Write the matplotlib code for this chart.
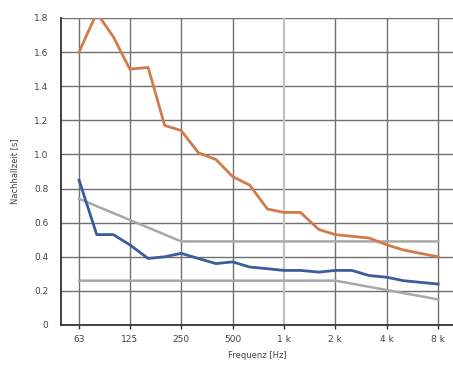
import matplotlib
matplotlib.use("Agg")
import matplotlib.pyplot as plt

# third-octave band centres
freqs = [63, 80, 100, 125, 160, 200, 250, 315, 400, 500, 630, 800,
         1000, 1250, 1600, 2000, 2500, 3150, 4000, 5000, 6300, 8000]

# measured reverberation time, before / after
t_before = [1.60, 1.83, 1.69, 1.50, 1.51, 1.17, 1.14, 1.01, 0.97, 0.87, 0.82, 0.68,
            0.66, 0.66, 0.56, 0.53, 0.52, 0.51, 0.47, 0.44, 0.42, 0.40]
t_after = [0.85, 0.53, 0.53, 0.47, 0.39, 0.40, 0.42, 0.39, 0.36, 0.37, 0.34, 0.33,
           0.32, 0.32, 0.31, 0.32, 0.32, 0.29, 0.28, 0.26, 0.25, 0.24]

# tolerance band
upper_f = [63, 250, 8000]
upper_t = [0.74, 0.49, 0.49]
lower_f = [63, 2000, 8000]
lower_t = [0.26, 0.26, 0.15]

xticks = [63, 125, 250, 500, 1000, 2000, 4000, 8000]
xticklabels = ["63", "125", "250", "500", "1 k", "2 k", "4 k", "8 k"]
yticks = [0, 0.2, 0.4, 0.6, 0.8, 1.0, 1.2, 1.4, 1.6, 1.8]
yticklabels = ["0", "0.2", "0.4", "0.6", "0.8", "1.0", "1.2", "1.4", "1.6", "1.8"]

fig = plt.figure(figsize=(4.53, 3.65), dpi=100)
ax = fig.add_axes([0.1347, 0.1096, 0.8653, 0.8411])

ax.set_xscale("log", base=2)
ax.set_xlim(49.4, 9780)
ax.set_ylim(0, 1.8)

# grid
for y in yticks[1:]:
    ax.axhline(y, color="#707070", lw=1.0, zorder=1)
for f in xticks:
    if f == 1000:
        ax.axvline(f, color="#c2c2c2", lw=1.6, zorder=1)
    else:
        ax.axvline(f, color="#707070", lw=1.0, zorder=1)

ax.plot(upper_f, upper_t, color="#a8a8a8", lw=1.8, zorder=2)
ax.plot(lower_f, lower_t, color="#a8a8a8", lw=1.8, zorder=2)
ax.plot(freqs, t_before, color="#d27a4c", lw=2.0, zorder=3)
ax.plot(freqs, t_after, color="#3c5c9c", lw=2.0, zorder=3)

ax.set_xticks(xticks)
ax.set_xticklabels(xticklabels)
ax.xaxis.set_minor_locator(matplotlib.ticker.NullLocator())
ax.set_yticks(yticks)
ax.set_yticklabels(yticklabels)

for s in ["top", "right"]:
    ax.spines[s].set_visible(False)
for s in ["left", "bottom"]:
    ax.spines[s].set_color("#333333")
    ax.spines[s].set_linewidth(1.3)

ax.tick_params(axis="x", length=3, width=1, color="#333333", pad=4,
               labelsize=6.5, labelcolor="#444444")
ax.tick_params(axis="y", length=0, pad=9, labelsize=6.5, labelcolor="#444444")

ax.set_xlabel("Frequenz [Hz]", fontsize=6, color="#444444", labelpad=5)
ax.set_ylabel("Nachhallzeit [s]", fontsize=6, color="#444444", labelpad=11)

fig.savefig("out.png", dpi=100)
